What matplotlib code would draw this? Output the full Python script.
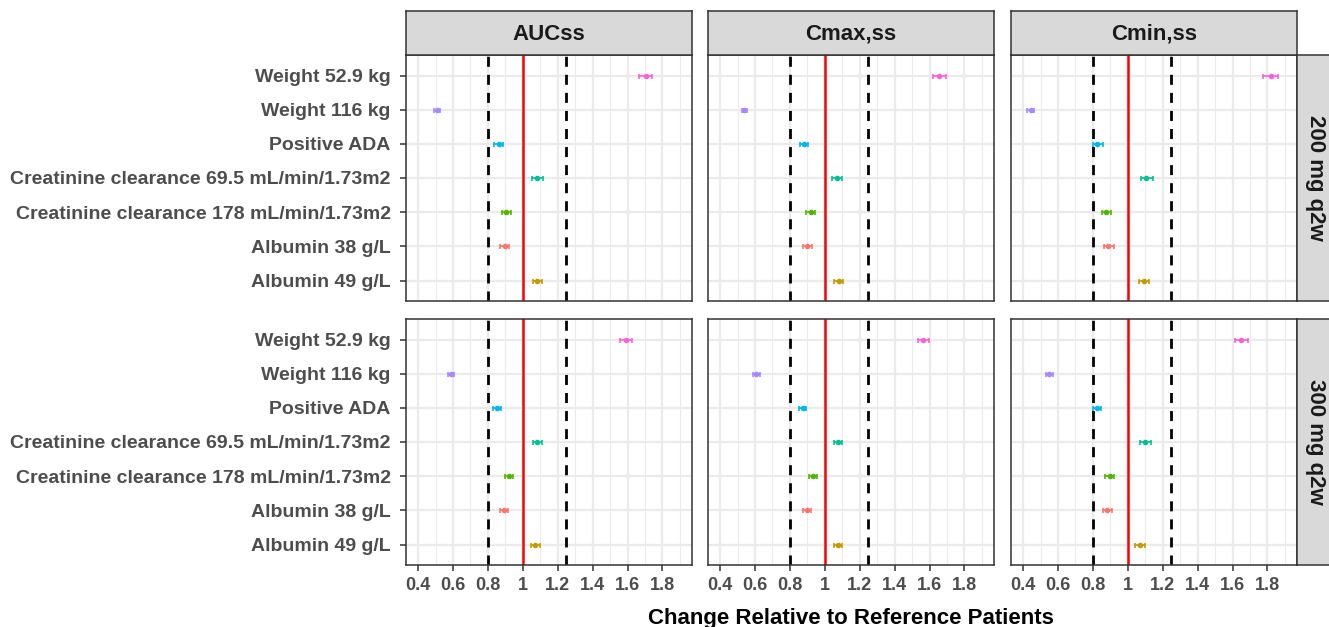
import matplotlib
matplotlib.use("Agg")
import matplotlib.pyplot as plt
import numpy as np

plt.rcParams['font.family'] = ['Liberation Sans', 'DejaVu Sans']
plt.rcParams['font.weight'] = 'bold'

categories = ["Weight 52.9 kg", "Weight 116 kg", "Positive ADA",
              "Creatinine clearance 69.5 mL/min/1.73m2",
              "Creatinine clearance 178 mL/min/1.73m2",
              "Albumin 38 g/L", "Albumin 49 g/L"]
cat_colors = ["#FB61D7", "#A58AFF", "#00B6EB", "#00C094", "#53B400", "#F8766D", "#C49A00"]

metrics = ["AUCss", "Cmax,ss", "Cmin,ss"]
doses = ["200 mg q2w", "300 mg q2w"]

# 200 mg q2w
auc_200_mid = [1.703, 0.508, 0.862, 1.082, 0.904, 0.897, 1.082]
auc_200_lo = [1.665, 0.492, 0.837, 1.054, 0.879, 0.872, 1.056]
auc_200_hi = [1.742, 0.523, 0.889, 1.113, 0.931, 0.923, 1.109]
cmax_200_mid = [1.653, 0.540, 0.879, 1.071, 0.920, 0.900, 1.079]
cmax_200_lo = [1.619, 0.523, 0.856, 1.042, 0.895, 0.875, 1.054]
cmax_200_hi = [1.692, 0.557, 0.902, 1.100, 0.944, 0.927, 1.105]
cmin_200_mid = [1.818, 0.444, 0.825, 1.107, 0.877, 0.888, 1.090]
cmin_200_lo = [1.775, 0.425, 0.798, 1.076, 0.852, 0.862, 1.063]
cmin_200_hi = [1.862, 0.465, 0.856, 1.143, 0.904, 0.919, 1.120]
# 300 mg q2w
auc_300_mid = [1.590, 0.588, 0.854, 1.082, 0.920, 0.891, 1.071]
auc_300_lo = [1.559, 0.571, 0.831, 1.056, 0.897, 0.868, 1.046]
auc_300_hi = [1.625, 0.607, 0.877, 1.109, 0.944, 0.916, 1.096]
cmax_300_mid = [1.563, 0.607, 0.874, 1.075, 0.931, 0.897, 1.073]
cmax_300_lo = [1.533, 0.590, 0.853, 1.050, 0.908, 0.874, 1.050]
cmax_300_hi = [1.596, 0.626, 0.895, 1.100, 0.956, 0.921, 1.096]
cmin_300_mid = [1.649, 0.550, 0.822, 1.100, 0.897, 0.881, 1.071]
cmin_300_lo = [1.613, 0.531, 0.799, 1.071, 0.872, 0.856, 1.044]
cmin_300_hi = [1.688, 0.571, 0.847, 1.130, 0.923, 0.910, 1.100]

x_ticks = [0.4, 0.6, 0.8, 1.0, 1.2, 1.4, 1.6, 1.8]
x_tick_labels = ["0.4", "0.6", "0.8", "1", "1.2", "1.4", "1.6", "1.8"]
ref_line = 1.0
bound_lines = [0.8, 1.25]

data = {
    (0, 0): (auc_200_mid, auc_200_lo, auc_200_hi),
    (0, 1): (cmax_200_mid, cmax_200_lo, cmax_200_hi),
    (0, 2): (cmin_200_mid, cmin_200_lo, cmin_200_hi),
    (1, 0): (auc_300_mid, auc_300_lo, auc_300_hi),
    (1, 1): (cmax_300_mid, cmax_300_lo, cmax_300_hi),
    (1, 2): (cmin_300_mid, cmin_300_lo, cmin_300_hi),
}

W, H = 1329, 627
fig = plt.figure(figsize=(W / 100, H / 100), dpi=100)

col_x = [406, 708, 1011]
panel_w = 286
row_y = [55, 319]
panel_h = 246

border = "#333333"
grid_c = "#EBEBEB"
text_gray = "#4D4D4D"

def fx(px):
    return px / W

def fy(py):
    return 1 - py / H

ypos = np.arange(len(categories))[::-1] + 1  # top category highest

for r in range(2):
    for c in range(3):
        ax = fig.add_axes([fx(col_x[c]), fy(row_y[r] + panel_h), panel_w / W, panel_h / H])
        ax.set_xlim(0.331, 1.969)
        ax.set_ylim(0.4, 7.6)
        ax.set_facecolor("white")
        for v in np.arange(0.3, 1.95, 0.2):
            ax.axvline(v, color=grid_c, lw=0.8, zorder=0)
        for v in x_ticks:
            ax.axvline(v, color=grid_c, lw=1.6, zorder=0)
        for y in ypos:
            ax.axhline(y, color=grid_c, lw=1.6, zorder=0)
        for b in bound_lines:
            ax.axvline(b, color="black", lw=2.0, dashes=(3.6, 2.9), zorder=2)
        ax.axvline(ref_line, color="#FF0000", lw=1.8, zorder=2)
        mid, lo, hi = data[(r, c)]
        for i in range(len(categories)):
            m = mid[i]
            ax.errorbar([m], [ypos[i]], xerr=[[m - lo[i]], [hi[i] - m]],
                        fmt='o', color=cat_colors[i], ms=3.0, elinewidth=1.2,
                        capsize=1.8, capthick=1.2, zorder=3)
        for s in ax.spines.values():
            s.set_color(border)
            s.set_linewidth(1.1)
        ax.tick_params(axis='both', colors=border, width=1.1, length=4.5,
                       labelcolor=text_gray)
        ax.tick_params(axis='x', pad=4.5, labelsize=13)
        ax.tick_params(axis='y', pad=6.5, labelsize=14)
        ax.set_yticks(ypos)
        if c == 0:
            ax.set_yticklabels(categories, fontweight='bold')
        else:
            ax.set_yticklabels([])
            ax.tick_params(axis='y', length=0)
        ax.set_xticks(x_ticks)
        if r == 1:
            ax.set_xticklabels(x_tick_labels, fontweight='bold')
        else:
            ax.set_xticklabels([])
            ax.tick_params(axis='x', length=0)

# top strips
for c in range(3):
    sax = fig.add_axes([fx(col_x[c]), fy(55), panel_w / W, 44 / H])
    sax.set_facecolor("#D9D9D9")
    sax.set_xticks([]); sax.set_yticks([])
    for s in sax.spines.values():
        s.set_color(border); s.set_linewidth(1.1)
    sax.text(0.5, 0.47, metrics[c], ha='center', va='center', fontsize=16,
             fontweight='bold', color="#1A1A1A", transform=sax.transAxes)

# right strips
for r in range(2):
    sax = fig.add_axes([fx(1297), fy(row_y[r] + panel_h), 42 / W, panel_h / H])
    sax.set_facecolor("#D9D9D9")
    sax.set_xticks([]); sax.set_yticks([])
    for s in sax.spines.values():
        s.set_color(border); s.set_linewidth(1.1)
    sax.text(0.45, 0.5, doses[r], ha='center', va='center', fontsize=16,
             fontweight='bold', color="#1A1A1A", rotation=-90, transform=sax.transAxes)

fig.text(fx(851), fy(608), "Change Relative to Reference Patients", ha='center', va='top',
         fontsize=16, fontweight='bold', color="black")

fig.savefig("out.png", dpi=100)
